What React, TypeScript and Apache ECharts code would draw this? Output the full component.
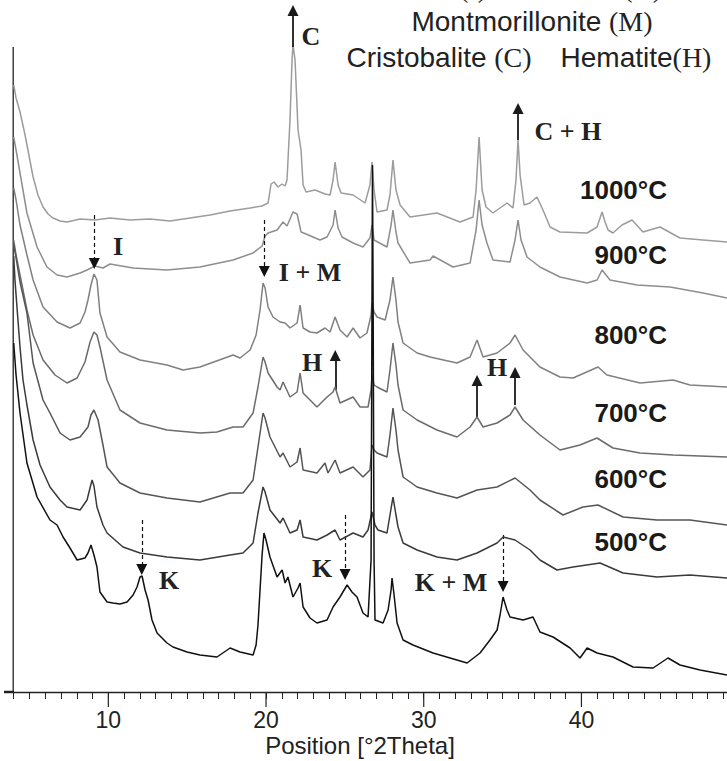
import React, { useEffect, useRef } from "react";
import * as echarts from "echarts";

const SANS = "'Liberation Sans', Arial, Helvetica, sans-serif";
const SERIF = "'Liberation Serif', 'Times New Roman', serif";

// x: position [°2Theta], y: relative intensity (stacked offset, arbitrary units)
const S1000: [number, number][] = [
  [4.0, 607], [4.15, 594], [4.4, 580], [4.72, 557], [5.23, 515], [5.54, 497], [5.86, 485], [6.18, 478], [6.49, 474],
  [6.94, 471], [7.38, 470], [8.21, 473], [9.16, 472], [10.11, 474], [11.38, 472], [12.64, 473], [13.91, 471],
  [15.18, 474], [16.45, 477], [17.72, 481], [18.99, 484], [19.75, 486], [20.13, 489], [20.32, 508], [20.51, 510],
  [20.76, 505], [21.02, 508], [21.21, 506], [21.33, 512], [21.52, 572], [21.65, 632], [21.71, 647], [21.84, 632],
  [22.03, 562], [22.22, 542], [22.35, 507], [22.54, 500], [23.11, 502], [23.74, 498], [24.06, 497], [24.25, 512],
  [24.38, 530], [24.57, 507], [24.76, 499], [25.52, 497], [26.28, 489], [26.59, 507], [26.72, 530], [26.85, 502],
  [27.04, 480], [27.67, 482], [27.86, 497], [28.05, 532], [28.24, 502], [28.5, 487], [29.13, 475], [30.84, 479],
  [32.3, 470], [33.13, 475], [33.32, 502], [33.51, 555], [33.7, 502], [33.95, 485], [34.39, 479], [35.28, 489],
  [35.66, 484], [35.85, 512], [35.98, 552], [36.11, 517], [36.36, 487], [36.74, 489], [37.18, 495], [37.56, 482],
  [38.01, 465], [38.64, 460], [40.36, 459], [40.99, 465], [41.18, 474], [41.31, 480], [41.5, 470], [41.69, 462],
  [42.0, 459], [42.57, 467], [43.21, 472], [43.9, 460], [44.98, 465], [46.25, 454], [47.71, 452], [49.23, 450],
];

const S900: [number, number][] = [
  [4.0, 555], [4.15, 542], [4.4, 519], [4.84, 479], [5.48, 445], [6.11, 425], [6.75, 417], [7.38, 415], [8.21, 419],
  [8.65, 422], [9.16, 426], [9.66, 424], [10.11, 428], [11.57, 424], [13.72, 422], [15.81, 425], [17.91, 432],
  [19.18, 439], [19.75, 446], [19.94, 456], [20.13, 459], [20.7, 462], [21.08, 470], [21.33, 466], [21.71, 480],
  [21.97, 478], [22.22, 460], [22.54, 458], [23.42, 452], [23.87, 455], [24.25, 467], [24.38, 482], [24.57, 464],
  [24.82, 455], [25.52, 449], [26.15, 445], [26.59, 454], [26.72, 467], [26.85, 452], [27.67, 445], [27.93, 467],
  [28.05, 482], [28.24, 460], [28.37, 449], [29.13, 429], [30.4, 432], [30.59, 436], [31.86, 425], [32.94, 429],
  [33.32, 462], [33.51, 492], [33.7, 467], [34.01, 449], [34.39, 432], [35.47, 430], [35.79, 452], [35.98, 472],
  [36.17, 452], [36.55, 435], [37.37, 425], [38.64, 415], [40.36, 409], [40.99, 412], [41.31, 422], [41.81, 412],
  [43.53, 407], [45.62, 405], [47.71, 399], [49.23, 394],
];

const S800: [number, number][] = [
  [4.0, 504], [4.15, 492], [4.4, 467], [4.84, 437], [5.23, 412], [5.86, 385], [6.75, 370], [7.57, 364], [8.21, 369],
  [8.52, 380], [8.71, 392], [8.9, 407], [9.09, 418], [9.28, 412], [9.47, 379], [9.92, 355], [10.74, 340], [12.01, 332],
  [13.72, 327], [14.74, 322], [15.81, 325], [17.91, 337], [18.35, 334], [18.99, 342], [19.37, 357], [19.62, 382],
  [19.81, 409], [19.94, 404], [20.13, 385], [20.44, 375], [20.89, 370], [21.21, 369], [21.52, 364], [21.97, 369],
  [22.16, 387], [22.35, 364], [22.79, 360], [23.23, 359], [23.74, 364], [24.06, 360], [24.38, 375], [24.69, 362],
  [25.14, 355], [25.52, 364], [25.96, 354], [26.4, 359], [26.66, 377], [26.72, 389], [26.85, 380], [27.04, 375],
  [27.55, 372], [27.86, 392], [28.05, 415], [28.24, 392], [28.37, 370], [28.69, 349], [29.58, 339], [30.4, 335],
  [32.11, 329], [32.94, 335], [33.38, 352], [33.76, 335], [34.65, 339], [35.47, 349], [35.79, 357], [36.3, 342],
  [37.37, 325], [38.64, 315], [39.47, 314], [41.05, 325], [41.62, 317], [43.72, 309], [45.81, 312], [46.88, 307],
  [49.23, 305],
];

const S700: [number, number][] = [
  [4.0, 452], [4.15, 437], [4.4, 417], [4.84, 382], [5.23, 357], [5.86, 332], [6.62, 317], [7.38, 309], [8.02, 314],
  [8.52, 330], [8.84, 350], [9.09, 360], [9.28, 357], [9.47, 345], [9.92, 312], [10.74, 282], [12.01, 269],
  [13.72, 262], [15.81, 259], [16.89, 260], [17.91, 265], [18.54, 265], [19.18, 279], [19.49, 305], [19.81, 335],
  [19.94, 330], [20.13, 319], [20.7, 305], [20.89, 302], [21.08, 310], [21.52, 295], [21.97, 300], [22.16, 319],
  [22.35, 299], [23.23, 285], [23.87, 295], [24.25, 300], [24.38, 305], [24.69, 289], [25.52, 295], [25.96, 285],
  [26.47, 285], [26.66, 302], [26.72, 317], [26.85, 307], [27.04, 305], [27.67, 300], [27.86, 322], [28.05, 349],
  [28.24, 327], [28.37, 307], [28.69, 282], [29.58, 272], [30.84, 262], [32.11, 255], [32.94, 265], [33.38, 275],
  [33.76, 265], [34.65, 269], [35.47, 277], [35.79, 285], [36.3, 272], [37.37, 257], [38.64, 242], [39.91, 247],
  [40.99, 254], [42.0, 244], [43.72, 239], [45.81, 237], [49.23, 235],
];

const S600: [number, number][] = [
  [4.0, 447], [4.15, 434], [4.4, 410], [4.84, 379], [5.23, 329], [5.86, 292], [6.3, 279], [6.94, 259], [7.57, 252],
  [8.21, 255], [8.71, 265], [8.9, 277], [9.09, 282], [9.35, 272], [9.66, 247], [9.92, 225], [10.74, 209], [12.01, 199],
  [13.72, 194], [15.81, 190], [17.72, 199], [18.54, 199], [19.18, 212], [19.49, 245], [19.81, 279], [19.94, 274],
  [20.25, 255], [20.89, 235], [21.08, 239], [21.52, 225], [21.97, 230], [22.16, 244], [22.35, 222], [23.23, 219],
  [23.74, 229], [23.93, 219], [24.38, 232], [24.69, 219], [25.52, 225], [26.15, 215], [26.59, 222], [26.72, 247],
  [26.85, 242], [27.04, 239], [27.67, 235], [27.86, 257], [28.05, 284], [28.24, 262], [28.37, 242], [28.69, 215],
  [29.58, 205], [30.84, 199], [32.11, 194], [33.38, 202], [34.65, 205], [35.79, 214], [36.74, 202], [37.37, 192],
  [38.83, 177], [40.1, 185], [41.05, 187], [42.64, 175], [44.79, 172], [46.88, 172], [49.23, 167],
];

const S500: [number, number][] = [
  [4.0, 436], [4.08, 412], [4.27, 372], [4.4, 345], [4.59, 312], [4.84, 287], [5.23, 252], [5.67, 227], [6.3, 205],
  [6.94, 192], [7.38, 185], [8.21, 182], [8.65, 192], [8.84, 204], [8.97, 212], [9.09, 206], [9.28, 185], [9.66, 167],
  [9.92, 159], [10.93, 145], [12.01, 139], [13.72, 135], [15.81, 132], [17.72, 137], [18.54, 139], [19.18, 149],
  [19.49, 179], [19.81, 205], [19.94, 200], [20.25, 182], [20.89, 169], [21.08, 174], [21.52, 159], [21.97, 162],
  [22.16, 172], [22.35, 155], [23.23, 152], [23.87, 157], [24.38, 162], [24.69, 152], [25.52, 159], [26.15, 155],
  [26.47, 162], [26.72, 180], [26.91, 167], [27.1, 162], [27.67, 159], [27.86, 177], [28.05, 195], [28.24, 177],
  [28.37, 165], [28.69, 149], [29.58, 142], [30.84, 135], [32.11, 132], [33.38, 139], [34.65, 149], [35.03, 155],
  [35.79, 152], [36.74, 142], [37.37, 132], [38.45, 122], [39.47, 125], [41.18, 129], [42.64, 119], [44.79, 115],
  [46.88, 117], [49.23, 114],
];

const SRAW: [number, number][] = [
  [4.0, 349], [4.15, 317], [4.4, 279], [4.84, 229], [5.48, 195], [6.3, 172], [6.75, 167], [7.13, 155], [7.57, 144],
  [8.02, 132], [8.52, 134], [8.71, 139], [8.9, 147], [9.09, 137], [9.28, 125], [9.47, 100], [9.92, 90], [10.3, 89],
  [10.74, 88], [11.19, 90], [11.57, 97], [11.82, 105], [12.01, 115], [12.14, 116], [12.33, 102], [12.52, 92],
  [12.77, 72], [13.09, 59], [13.72, 49], [14.1, 45], [14.99, 40], [15.81, 37], [16.89, 35], [17.72, 44], [18.35, 40],
  [19.18, 37], [19.37, 47], [19.49, 67], [19.62, 102], [19.75, 137], [19.87, 159], [20.0, 152], [20.25, 135],
  [20.7, 115], [21.02, 122], [21.21, 109], [21.39, 115], [21.71, 95], [22.03, 104], [22.16, 109], [22.35, 85],
  [22.79, 74], [23.23, 69], [23.87, 72], [24.25, 85], [24.69, 95], [25.14, 107], [25.45, 100], [25.77, 95],
  [26.15, 79], [26.47, 75], [26.66, 132], [26.72, 392], [26.75, 527], [26.79, 392], [26.85, 132], [26.91, 72],
  [27.42, 69], [27.74, 82], [27.93, 102], [27.99, 114], [28.12, 97], [28.31, 69], [28.69, 52], [29.32, 47],
  [30.59, 39], [31.67, 34], [32.75, 29], [33.57, 39], [34.2, 52], [34.65, 62], [34.84, 77], [35.03, 95], [35.28, 82],
  [35.47, 75], [36.3, 72], [36.93, 75], [37.37, 60], [38.2, 55], [39.28, 44], [39.91, 34], [40.36, 44], [40.99, 39],
  [42.0, 35], [43.27, 25], [44.54, 24], [45.49, 34], [46.25, 27], [47.52, 22], [49.23, 17],
];

const SERIES = [
  { name: "1000°C", data: S1000, color: "#9c9c9c" },
  { name: "900°C", data: S900, color: "#8e8e8e" },
  { name: "800°C", data: S800, color: "#808080" },
  { name: "700°C", data: S700, color: "#6c6c6c" },
  { name: "600°C", data: S600, color: "#555555" },
  { name: "500°C", data: S500, color: "#3a3a3a" },
  { name: "raw", data: SRAW, color: "#111111" },
];

const MAJOR_TICKS = [10, 20, 30, 40];
const MINOR_TICKS = Array.from({ length: 46 }, (_, i) => 4 + i);

// temperature labels: [text, y-pixel of text centre]
const TEMP_LABELS: [string, number][] = [
  ["1000°C", 190], ["900°C", 255], ["800°C", 335], ["700°C", 413], ["600°C", 479], ["500°C", 542],
];

// arrows: position, tail value, tip value
const ARROWS = [
  { x: 21.71, from: 645, to: 687, dashed: false },
  { x: 35.98, from: 552, to: 589, dashed: false },
  { x: 9.11, from: 477, to: 423, dashed: true },
  { x: 19.89, from: 472, to: 415, dashed: true },
  { x: 24.39, from: 302, to: 342, dashed: false },
  { x: 33.38, from: 275, to: 317, dashed: false },
  { x: 35.79, from: 287, to: 325, dashed: false },
  { x: 12.12, from: 172, to: 117, dashed: true },
  { x: 25.01, from: 177, to: 112, dashed: true },
  { x: 35.03, from: 157, to: 100, dashed: true },
];

const PHASE_LABELS: [string, number, number][] = [
  ["C", 311, 36], ["C + H", 568, 131], ["I", 118, 246], ["I + M", 310, 272],
  ["H", 312, 362], ["H", 497, 367], ["K", 169, 580], ["K", 322, 568], ["K + M", 451, 582],
];

export default function App() {
  const ref = useRef<HTMLDivElement>(null);
  useEffect(() => {
    if (!ref.current) return;
    const chart = echarts.init(ref.current, undefined, { renderer: "svg" });
    const HEAD = 11;
    const markData = ARROWS.map((a) => {
      const dir = a.to > a.from ? 1 : -1;
      const lineStyle = a.dashed
        ? { color: "#111", width: 1.2, type: [4, 3] as any }
        : { color: "#1a1a1a", width: 1.8, type: "solid" as any };
      return [
        { coord: [a.x, a.from], symbol: "none", lineStyle },
        { coord: [a.x, a.to - (dir * HEAD) / 2], symbol: "triangle", symbolSize: HEAD, lineStyle },
      ];
    });

    const series: any[] = SERIES.map((s, i) => ({
      name: s.name,
      type: "line",
      data: s.data,
      showSymbol: false,
      symbol: "none",
      clip: false,
      silent: true,
      lineStyle: { color: s.color, width: 1.5 },
      z: 2 + i,
    }));
    series[series.length - 1].markLine = {
      silent: true,
      symbol: ["none", "triangle"],
      label: { show: false },
      data: markData,
      animation: false,
    };

    const richLegend = {
      s: { fontFamily: SANS, fontSize: 28, fill: "#222" },
      r: { fontFamily: SERIF, fontSize: 28, fill: "#222" },
    };

    const graphic: any[] = [
      { type: "line", shape: { x1: 13.2, y1: 47, x2: 13.2, y2: 692 }, style: { stroke: "#222", lineWidth: 1.3 } },
      { type: "line", shape: { x1: 4, y1: 692, x2: 14, y2: 692 }, style: { stroke: "#222", lineWidth: 2.5 } },
      {
        type: "text", x: 360, y: 745,
        style: { text: "Position [°2Theta]", fontFamily: SANS, fontSize: 24, fill: "#222", align: "center", verticalAlign: "middle" },
      },
      { type: "text", x: 487, y: -13, style: { text: "{s|Illite }{r|(I)}", align: "right", verticalAlign: "middle", rich: richLegend } },
      { type: "text", x: 662, y: -13, style: { text: "{s|Kaolinite }{r|(K)}", align: "right", verticalAlign: "middle", rich: richLegend } },
      { type: "text", x: 532, y: 21, style: { text: "{s|Montmorillonite }{r|(M)}", align: "center", verticalAlign: "middle", rich: richLegend } },
      { type: "text", x: 439, y: 57, style: { text: "{s|Cristobalite }{r|(C)}", align: "center", verticalAlign: "middle", rich: richLegend } },
      { type: "text", x: 636, y: 57, style: { text: "{s|Hematite}{r|(H)}", align: "center", verticalAlign: "middle", rich: richLegend } },
      ...TEMP_LABELS.map(([t, y]) => ({
        type: "text", x: 667, y, z: 50,
        style: { text: t, fontFamily: SANS, fontSize: 26, fontWeight: "bold", fill: "#1a1a1a", align: "right", verticalAlign: "middle" },
      })),
      ...PHASE_LABELS.map(([t, x, y]) => ({
        type: "text", x, y, z: 50,
        style: { text: t, fontFamily: SERIF, fontSize: 26, fontWeight: "bold", fill: "#222", align: "center", verticalAlign: "middle" },
      })),
    ];

    chart.setOption({
      animation: false,
      grid: { left: 13.7, right: 0, top: 0, bottom: 69, containLabel: false },
      xAxis: {
        type: "value", min: 4, max: 49.23, position: "bottom",
        axisLine: { show: true, lineStyle: { color: "#222", width: 1.3 } },
        axisTick: { show: true, customValues: MINOR_TICKS, length: 7, lineStyle: { color: "#222", width: 1 } },
        axisLabel: { customValues: MAJOR_TICKS, fontFamily: SANS, fontSize: 23, color: "#222", margin: 16 },
        splitLine: { show: false },
      },
      yAxis: {
        type: "value", min: 0, max: 692,
        axisLine: { show: false },
        axisTick: { show: false }, axisLabel: { show: false }, splitLine: { show: false },
      },
      series,
      graphic,
    });

    // longer ticks at the labelled positions, placed through the axis scale
    const axisY = chart.convertToPixel({ yAxisIndex: 0 }, 0) as number;
    const majorTicks = MAJOR_TICKS.map((v) => {
      const px = chart.convertToPixel({ xAxisIndex: 0 }, v) as number;
      return {
        type: "line",
        shape: { x1: px, y1: axisY, x2: px, y2: axisY + 15 },
        style: { stroke: "#222", lineWidth: 1.2 },
      };
    });
    chart.setOption({ graphic: [...graphic, ...majorTicks] });

    return () => chart.dispose();
  }, []);
  return <div ref={ref} style={{ position: "absolute", left: 0, top: 0, width: 727, height: 761, background: "#fff" }} />;
}
